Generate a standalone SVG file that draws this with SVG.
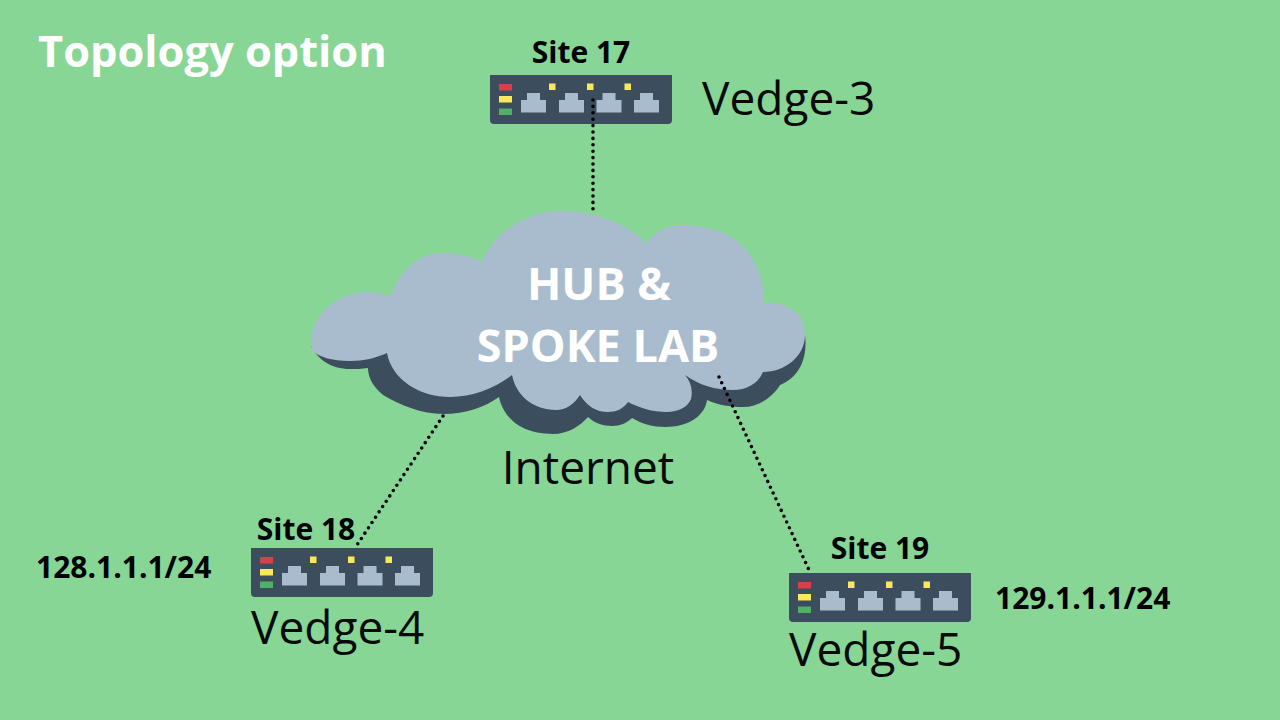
<svg xmlns="http://www.w3.org/2000/svg" width="1280" height="720" viewBox="0 0 1280 720">
<style>
text{font-family:"Open Sans","Noto Sans","DejaVu Sans",sans-serif}
.b{font-weight:700;fill:#000}
.site{font-size:30px}
.ip{font-size:30px}
.n{font-size:46px;fill:#0a0a0a}
.w{font-weight:700;fill:#fff}
.link{fill:none;stroke:#000;stroke-width:3.6;stroke-linecap:round;stroke-dasharray:0 6.4}
</style>
<defs>
<g id="sw">
<path d="M0 0H182V45a4 4 0 0 1-4 4H4a4 4 0 0 1-4-4Z" fill="#3c4e5e"/>
<rect x="9" y="9" width="13" height="6.500" fill="#d9404a"/>
<rect x="9" y="21" width="13" height="6.500" fill="#f8e85a"/>
<rect x="9" y="33.500" width="13" height="6.500" fill="#4fb067"/>
<g fill="#f8e85a"><rect x="59" y="8.500" width="6.500" height="6.500"/><rect x="97" y="8.500" width="6.500" height="6.500"/><rect x="134.500" y="8.500" width="6.500" height="6.500"/></g>
<g fill="#a9bccd">
<path d="M31 37.500V25H37V18H50V25H56V37.500Z"/>
<path d="M69 37.500V25H75V18H88V25H94V37.500Z"/>
<path d="M106.500 37.500V25H112.500V18H125.500V25H131.500V37.500Z"/>
<path d="M144 37.500V25H150V18H163V25H169V37.500Z"/>
</g>
</g>
</defs>
<rect width="1280" height="720" fill="#87d696"/>
<g id="cloud">
<path fill="#3c4e5e" d="M311 346C318 360 332 369 350 369C356 369 362 369 368 368C368 375 371 385 383 395C400 405 422 414 443 414C466 414 485 407 499 397C502 412 515 434 553 434C568 434 580 426 588 417C594 423 603 426 612 426C620 426 627 423 632 418C642 424 653 427 665 427C688 427 705 416 707 400C718 405 730 407 743 407C758 407 772 398 780 385C798 378 808 360 805 335L700 330Z"/>
<path fill="#a9bccd" d="M311 340C313 312 340 292 367 292C376 292 385 294 391 297C398 272 418 253 441 253C456 253 470 256 482 262C492 235 525 211 560 211C592 211 626 222 646 243C655 232 667 225 680 225C725 225 763 245 764 303C785 301 805 312 805 335C805 356 785 372 763 372C758 384 746 390 733 390C715 390 699 385 685 375C691 382 693 390 691 399C688 407 678 412 667 412C652 412 640 408 628 402C623 409 616 412 608 412C596 412 587 406 580 395C574 404 566 410 556 410C534 410 516 396 512 375C496 388 473 397 450 397C420 397 392 380 387 353C376 358 364 361 350 361C332 361 318 357 312 350C311 347 311 343 311 340Z"/>
<text x="599" y="300" text-anchor="middle" class="w" font-size="45">HUB &amp;</text>
<text x="598" y="362" text-anchor="middle" class="w" font-size="45">SPOKE LAB</text>
<text x="588" y="484" text-anchor="middle" class="n">Internet</text>
</g>
<g id="title"><text x="38" y="67" class="w" font-size="43.400">Topology option</text></g>
<g id="vedge-3">
<use href="#sw" x="490" y="75"/>
<text x="581" y="63" text-anchor="middle" class="b site">Site 17</text>
<text x="702" y="115" class="n">Vedge-3</text>
</g>
<g id="vedge-4">
<use href="#sw" x="251" y="548"/>
<text x="306" y="540" text-anchor="middle" class="b site">Site 18</text>
<text x="251" y="644" class="n">Vedge-4</text>
<text x="36" y="578" class="b ip">128.1.1.1/24</text>
</g>
<g id="vedge-5">
<use href="#sw" x="789" y="573"/>
<text x="880" y="559" text-anchor="middle" class="b site">Site 19</text>
<text x="789" y="666" class="n">Vedge-5</text>
<text x="995" y="609" class="b ip">129.1.1.1/24</text>
</g>
<g id="connectors">
<path class="link" d="M593 100V212"/>
<path class="link" d="M443 416L357 545"/>
<path class="link" d="M719 377L810 572"/>
</g>
</svg>
